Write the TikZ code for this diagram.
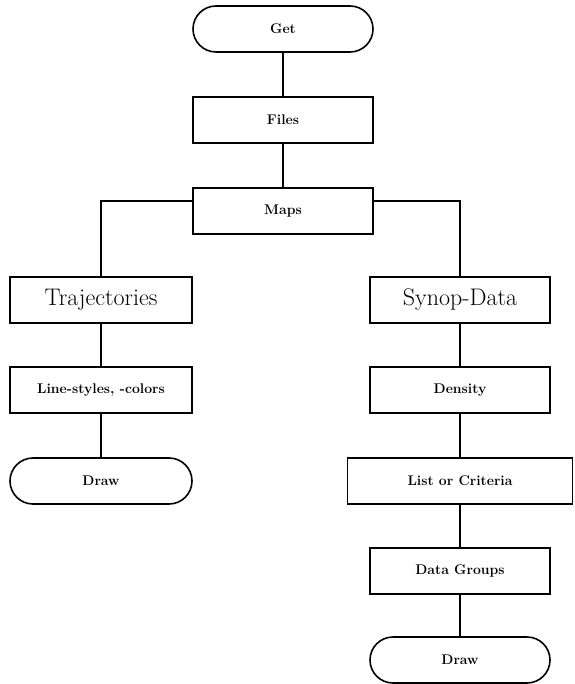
\documentclass[tikz,border=0pt]{standalone}
\usetikzlibrary{positioning}
\begin{document}
\begin{tikzpicture}[x=1pt,y=-1pt,
  line width=1.6pt,
  box/.style={draw, rectangle, minimum height=46pt, inner sep=0pt, font=\fontsize{14}{16}\selectfont\bfseries},
  bigbox/.style={box, font=\fontsize{24}{28}\selectfont},
  term/.style={box, rounded corners=23pt},
  link/.style={draw, line width=1.4pt}]
\useasboundingbox (0,0) rectangle (574,684);
% main column
\node[term, minimum width=180pt] (get)   at (283,29)  {Get};
\node[box,  minimum width=180pt] (files) at (283,120) {Files};
\node[box,  minimum width=180pt] (maps)  at (283,211) {Maps};
% left branch
\node[bigbox, minimum width=182pt] (traj)  at (101,300) {Trajectories};
\node[box,    minimum width=182pt] (lines) at (101,390) {Line-styles, -colors};
\node[term,   minimum width=182pt] (drawL) at (101,481) {Draw};
% right branch
\node[bigbox, minimum width=180pt] (synop) at (460,300) {Synop-Data};
\node[box,    minimum width=180pt] (dens)  at (460,390) {Density};
\node[box,    minimum width=225pt] (list)  at (460,481) {List or Criteria};
\node[box,    minimum width=180pt] (groups) at (460,571) {Data Groups};
\node[term,   minimum width=180pt] (drawR) at (460,660) {Draw};
% connectors
\path[link] (get) -- (files);
\path[link] (files) -- (maps);
\path[link] ([yshift=10pt]maps.west) -| (traj.north);
\path[link] ([yshift=10pt]maps.east) -| (synop.north);
\path[link] (traj) -- (lines);
\path[link] (lines) -- (drawL);
\path[link] (synop) -- (dens);
\path[link] (dens) -- (list);
\path[link] (list) -- (groups);
\path[link] (groups) -- (drawR);
\end{tikzpicture}
\end{document}
